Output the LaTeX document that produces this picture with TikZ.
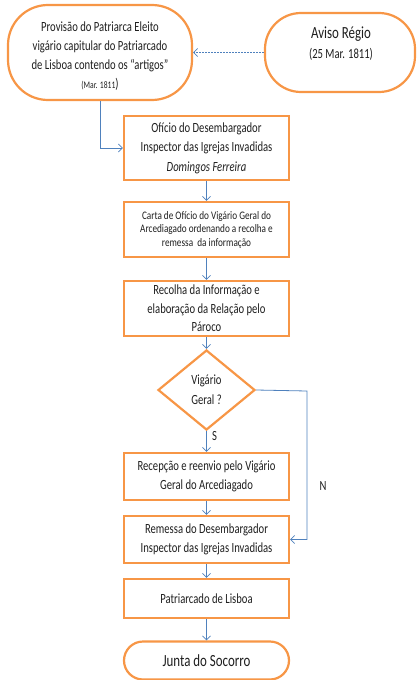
\documentclass[tikz,border=0pt]{standalone}
\usepackage{fontspec}
\setmainfont{Carlito}[FakeStretch=0.76]
\newfontfamily\cfb{Carlito}[FakeStretch=0.8]
\usetikzlibrary{shapes.geometric,arrows.meta}
\definecolor{orng}{HTML}{F79646}
\definecolor{arrowblue}{HTML}{4F81BD}
\definecolor{txt}{HTML}{1F1F1F}
\begin{document}
\begin{tikzpicture}[x=1pt,y=1pt,
  box/.style={draw=orng,line width=2.2pt,fill=white,minimum width=165pt,inner sep=1pt,align=center,text=txt,font=\fontsize{14}{19.5}\selectfont},
  plain/.style={align=center,text=txt,inner sep=0pt,font=\fontsize{14}{19}\selectfont},
  term/.style={box,rounded corners=19pt},
  cond/.style={draw=orng,line width=2.2pt,shape=diamond,inner sep=0pt,minimum width=97pt,minimum height=80pt,align=center,text=txt,font=\fontsize{14}{20}\selectfont},
  flow/.style={draw=arrowblue,line width=0.8pt,-{Straight Barb[length=4pt,width=8pt]}},
  lbl/.style={text=txt,font=\fontsize{14}{16}\selectfont}]
\useasboundingbox (0,0) rectangle (417,-680);
\node[box,rounded corners=40pt,minimum width=184pt,minimum height=95pt] (prov) at (100,-52.5) {};
\node[plain] (provtxt) at (100,-56) {Provisão do Patriarca Eleito\\vigário capitular do Patriarcado\\de Lisboa contendo os “artigos”\\{\fontsize{10}{12}\selectfont(Mar. 1811}\fontsize{14}{16}\selectfont)};
\node[box,rounded corners=36pt,minimum width=150pt,minimum height=79pt] (aviso) at (340,-52.5) {};
\node[plain,font=\fontsize{14}{20}\selectfont] (avisotxt) at (341,-44) {{\fontsize{17}{19}\selectfont Aviso Régio}\\(25 Mar. 1811)};
\node[box,minimum height=64pt] (b1) at (206.5,-148) {Ofício do Desembargador\\Inspector das Igrejas Invadidas\\\textit{Domingos Ferreira}};
\node[box,minimum height=55pt,font=\cfb\fontsize{11.5}{13.5}\selectfont] (b2) at (206.5,-229.5) {Carta de Ofício do Vigário Geral do\\Arcediagado ordenando a recolha e\\remessa\ \ da informação};
\node[box,minimum height=55pt,font=\fontsize{14}{18.5}\selectfont] (b3) at (206.5,-308.5) {Recolha da Informação e\\elaboração da Relação pelo\\Pároco};
\node[cond] (d) at (206.5,-390) {Vigário\\Geral ?};
\node[box,minimum height=47pt] (b4) at (206.5,-476.5) {Recepção e reenvio pelo Vigário\\Geral do Arcediagado};
\node[box,minimum height=47pt] (b5) at (206.5,-539.5) {Remessa do Desembargador\\Inspector das Igrejas Invadidas};
\node[box,minimum height=39pt] (b6) at (206.5,-598.5) {Patriarcado de Lisboa};
\node[term,minimum height=38pt,font=\fontsize{17}{19}\selectfont] (j) at (206.5,-660.5) {Junta do Socorro};
\coordinate (nr) at (307,-391);
\draw[flow,dashed,dash pattern=on 2pt off 1pt] (aviso.west) -- (prov.east);
\draw[flow] (prov.south) |- (b1.west);
\draw[flow] (b1) -- (b2);
\draw[flow] (b2) -- (b3);
\draw[flow] (b3) -- (d);
\draw[flow] (d) -- node[lbl,pos=0.25,right=2pt] (s) {S} (b4);
\draw[flow] (b4) -- (b5);
\draw[flow] (b5) -- (b6);
\draw[flow] (b6) -- (j);
\draw[flow] (d.east) -- (nr) |- (b5.east);
\node[lbl] (n) at (323,-486) {N};
\end{tikzpicture}
\end{document}
